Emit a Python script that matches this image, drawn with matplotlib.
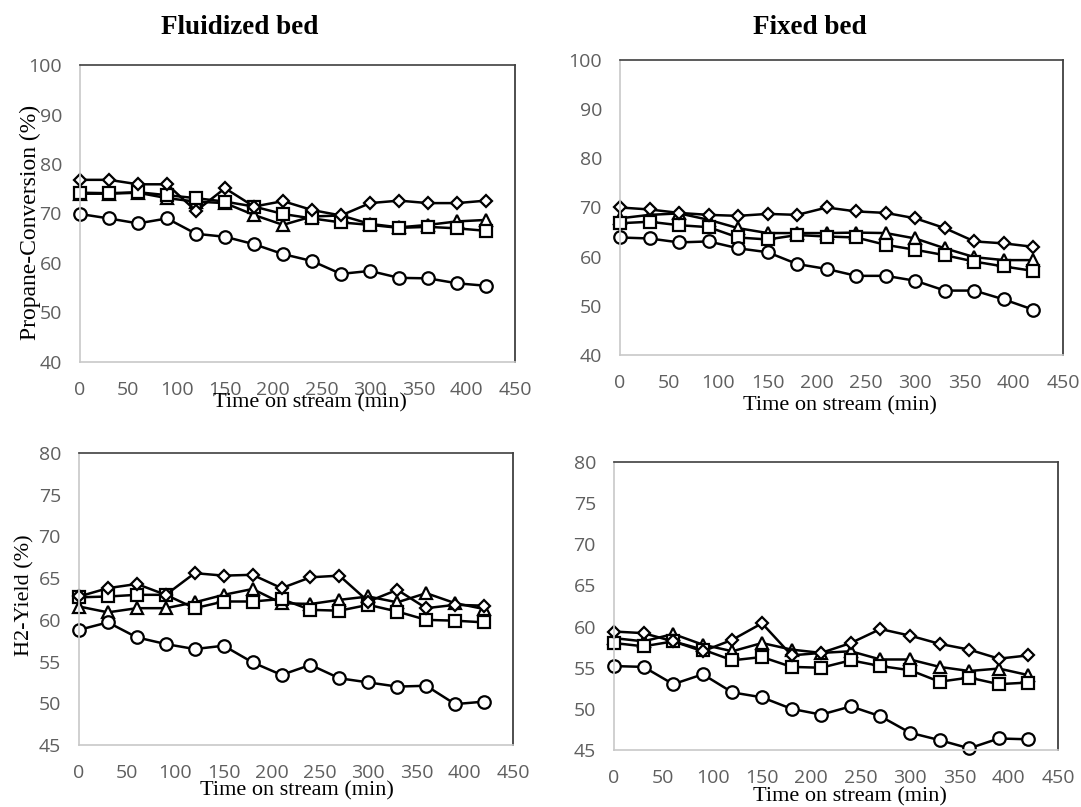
import matplotlib

matplotlib.use("Agg")

import matplotlib.pyplot as plt

W, H = 1081, 807

time_min = [0, 30, 60, 90, 120, 150, 180, 210, 240, 270, 300, 330, 360, 390, 420]

# Propane conversion (%) - fluidized bed
fl_conv_diamond = [76.8, 76.8, 75.9, 75.9, 70.5, 75.1, 71.4, 72.5, 70.7, 69.6, 72.1, 72.6, 72.1, 72.1, 72.6]
fl_conv_square = [74.2, 74.1, 74.3, 73.7, 73.1, 72.4, 71.4, 69.9, 69.0, 68.2, 67.7, 67.1, 67.3, 67.0, 66.5]
fl_conv_triangle = [74.0, 74.0, 74.2, 73.1, 72.4, 72.1, 69.7, 67.7, 69.4, 69.6, 67.9, 67.2, 67.7, 68.4, 68.7]
fl_conv_circle = [69.9, 69.0, 68.0, 69.0, 65.9, 65.3, 63.8, 61.8, 60.4, 57.8, 58.4, 57.0, 56.9, 55.9, 55.4]

# Propane conversion (%) - fixed bed
fx_conv_diamond = [70.0, 69.6, 68.9, 68.5, 68.3, 68.7, 68.5, 70.0, 69.2, 68.9, 67.8, 65.8, 63.1, 62.7, 62.0]
fx_conv_square = [66.8, 67.1, 66.4, 66.0, 63.9, 63.5, 64.4, 64.1, 63.9, 62.4, 61.4, 60.3, 59.0, 58.0, 57.1]
fx_conv_triangle = [67.8, 68.5, 68.8, 67.5, 65.8, 64.8, 64.8, 64.8, 64.9, 64.8, 63.7, 61.7, 59.9, 59.3, 59.3]
fx_conv_circle = [63.9, 63.7, 62.9, 63.1, 61.7, 60.9, 58.5, 57.5, 56.1, 56.1, 55.1, 53.1, 53.1, 51.3, 49.2]

# H2 yield (%) - fluidized bed
fl_h2_diamond = [62.8, 63.8, 64.3, 63.0, 65.6, 65.3, 65.4, 63.8, 65.1, 65.3, 62.2, 63.6, 61.4, 61.8, 61.7]
fl_h2_square = [62.7, 62.8, 63.0, 63.0, 61.4, 62.2, 62.2, 62.5, 61.2, 61.1, 61.8, 61.0, 60.0, 59.9, 59.7]
fl_h2_triangle = [61.6, 60.9, 61.4, 61.4, 62.1, 63.0, 63.7, 62.0, 61.9, 62.4, 62.8, 62.1, 63.2, 62.0, 61.3]
fl_h2_circle = [58.8, 59.7, 57.9, 57.1, 56.5, 56.9, 54.9, 53.4, 54.6, 53.0, 52.5, 52.0, 52.1, 49.9, 50.2]

# H2 yield (%) - fixed bed
fx_h2_diamond = [59.4, 59.2, 58.2, 57.0, 58.4, 60.4, 56.5, 56.8, 58.0, 59.7, 58.9, 57.9, 57.2, 56.1, 56.5]
fx_h2_square = [58.0, 57.6, 58.2, 57.2, 55.9, 56.3, 55.1, 55.0, 55.9, 55.2, 54.7, 53.3, 53.8, 53.0, 53.2]
fx_h2_triangle = [58.6, 58.2, 59.1, 57.8, 57.0, 58.0, 57.2, 56.8, 57.0, 56.0, 56.0, 55.1, 54.6, 54.9, 54.1]
fx_h2_circle = [55.2, 55.1, 53.0, 54.2, 52.0, 51.4, 50.0, 49.3, 50.3, 49.1, 47.1, 46.2, 45.2, 46.4, 46.3]

SERIF = "Liberation Serif"
TICK_FONT = "Open Sans"
TICK_COLOR = "#5f5f5f"


def px_box(left, top, right, bottom):
    return [left / W, 1 - bottom / H, (right - left) / W, (bottom - top) / H]


def draw_panel(ax, series, ylim, yticks):
    styles = [("^", 8.0), ("s", 8.5), ("D", 6.5), ("o", 9.0)]
    for values, (marker, size) in zip(series, styles):
        ax.plot(
            time_min,
            values,
            color="black",
            linewidth=1.8,
            marker=marker,
            markersize=size,
            markerfacecolor="white",
            markeredgecolor="black",
            markeredgewidth=1.6,
            clip_on=False,
        )
    ax.set_xlim(0, 450)
    ax.set_ylim(*ylim)
    ax.set_xticks(range(0, 451, 50))
    ax.set_yticks(yticks)
    ax.tick_params(length=0, labelsize=14, labelcolor=TICK_COLOR)
    ax.tick_params(axis="x", pad=14)
    ax.tick_params(axis="y", pad=13)
    for label in ax.get_xticklabels() + ax.get_yticklabels():
        label.set_fontfamily(TICK_FONT)
    ax.spines["top"].set_color("#404040")
    ax.spines["right"].set_color("#303030")
    ax.spines["left"].set_color("#c8c8c8")
    ax.spines["bottom"].set_color("#c8c8c8")
    for spine in ax.spines.values():
        spine.set_linewidth(1.2)


def fig_text(fig, x, y, text, **kwargs):
    fig.text(x / W, 1 - y / H, text, ha="center", va="center", family=SERIF, **kwargs)


fig = plt.figure(figsize=(W / 100, H / 100), dpi=100)

ax1 = fig.add_axes(px_box(80, 65, 515, 362))
draw_panel(ax1, [fl_conv_triangle, fl_conv_square, fl_conv_diamond, fl_conv_circle],
           (40, 100), range(40, 101, 10))
ax2 = fig.add_axes(px_box(620, 60, 1063, 355))
draw_panel(ax2, [fx_conv_triangle, fx_conv_square, fx_conv_diamond, fx_conv_circle],
           (40, 100), range(40, 101, 10))
ax3 = fig.add_axes(px_box(79, 453, 513, 745))
draw_panel(ax3, [fl_h2_triangle, fl_h2_square, fl_h2_diamond, fl_h2_circle],
           (45, 80), range(45, 81, 5))
ax4 = fig.add_axes(px_box(614, 462, 1058, 750))
draw_panel(ax4, [fx_h2_triangle, fx_h2_square, fx_h2_diamond, fx_h2_circle],
           (45, 80), range(45, 81, 5))

fig_text(fig, 240, 28, "Fluidized bed", fontsize=19.5, fontweight="bold")
fig_text(fig, 810, 28, "Fixed bed", fontsize=19.5, fontweight="bold")

fig_text(fig, 310, 403, "Time on stream (min)", fontsize=16)
fig_text(fig, 840, 406, "Time on stream (min)", fontsize=16)
fig_text(fig, 297, 791, "Time on stream (min)", fontsize=16)
fig_text(fig, 850, 797, "Time on stream (min)", fontsize=16)

fig_text(fig, 30, 222, "Propane-Conversion (%)", fontsize=17, rotation=90)
fig_text(fig, 25, 595, "H2-Yield (%)", fontsize=16, rotation=90)

fig.savefig("out.png", dpi=100, facecolor="white")
